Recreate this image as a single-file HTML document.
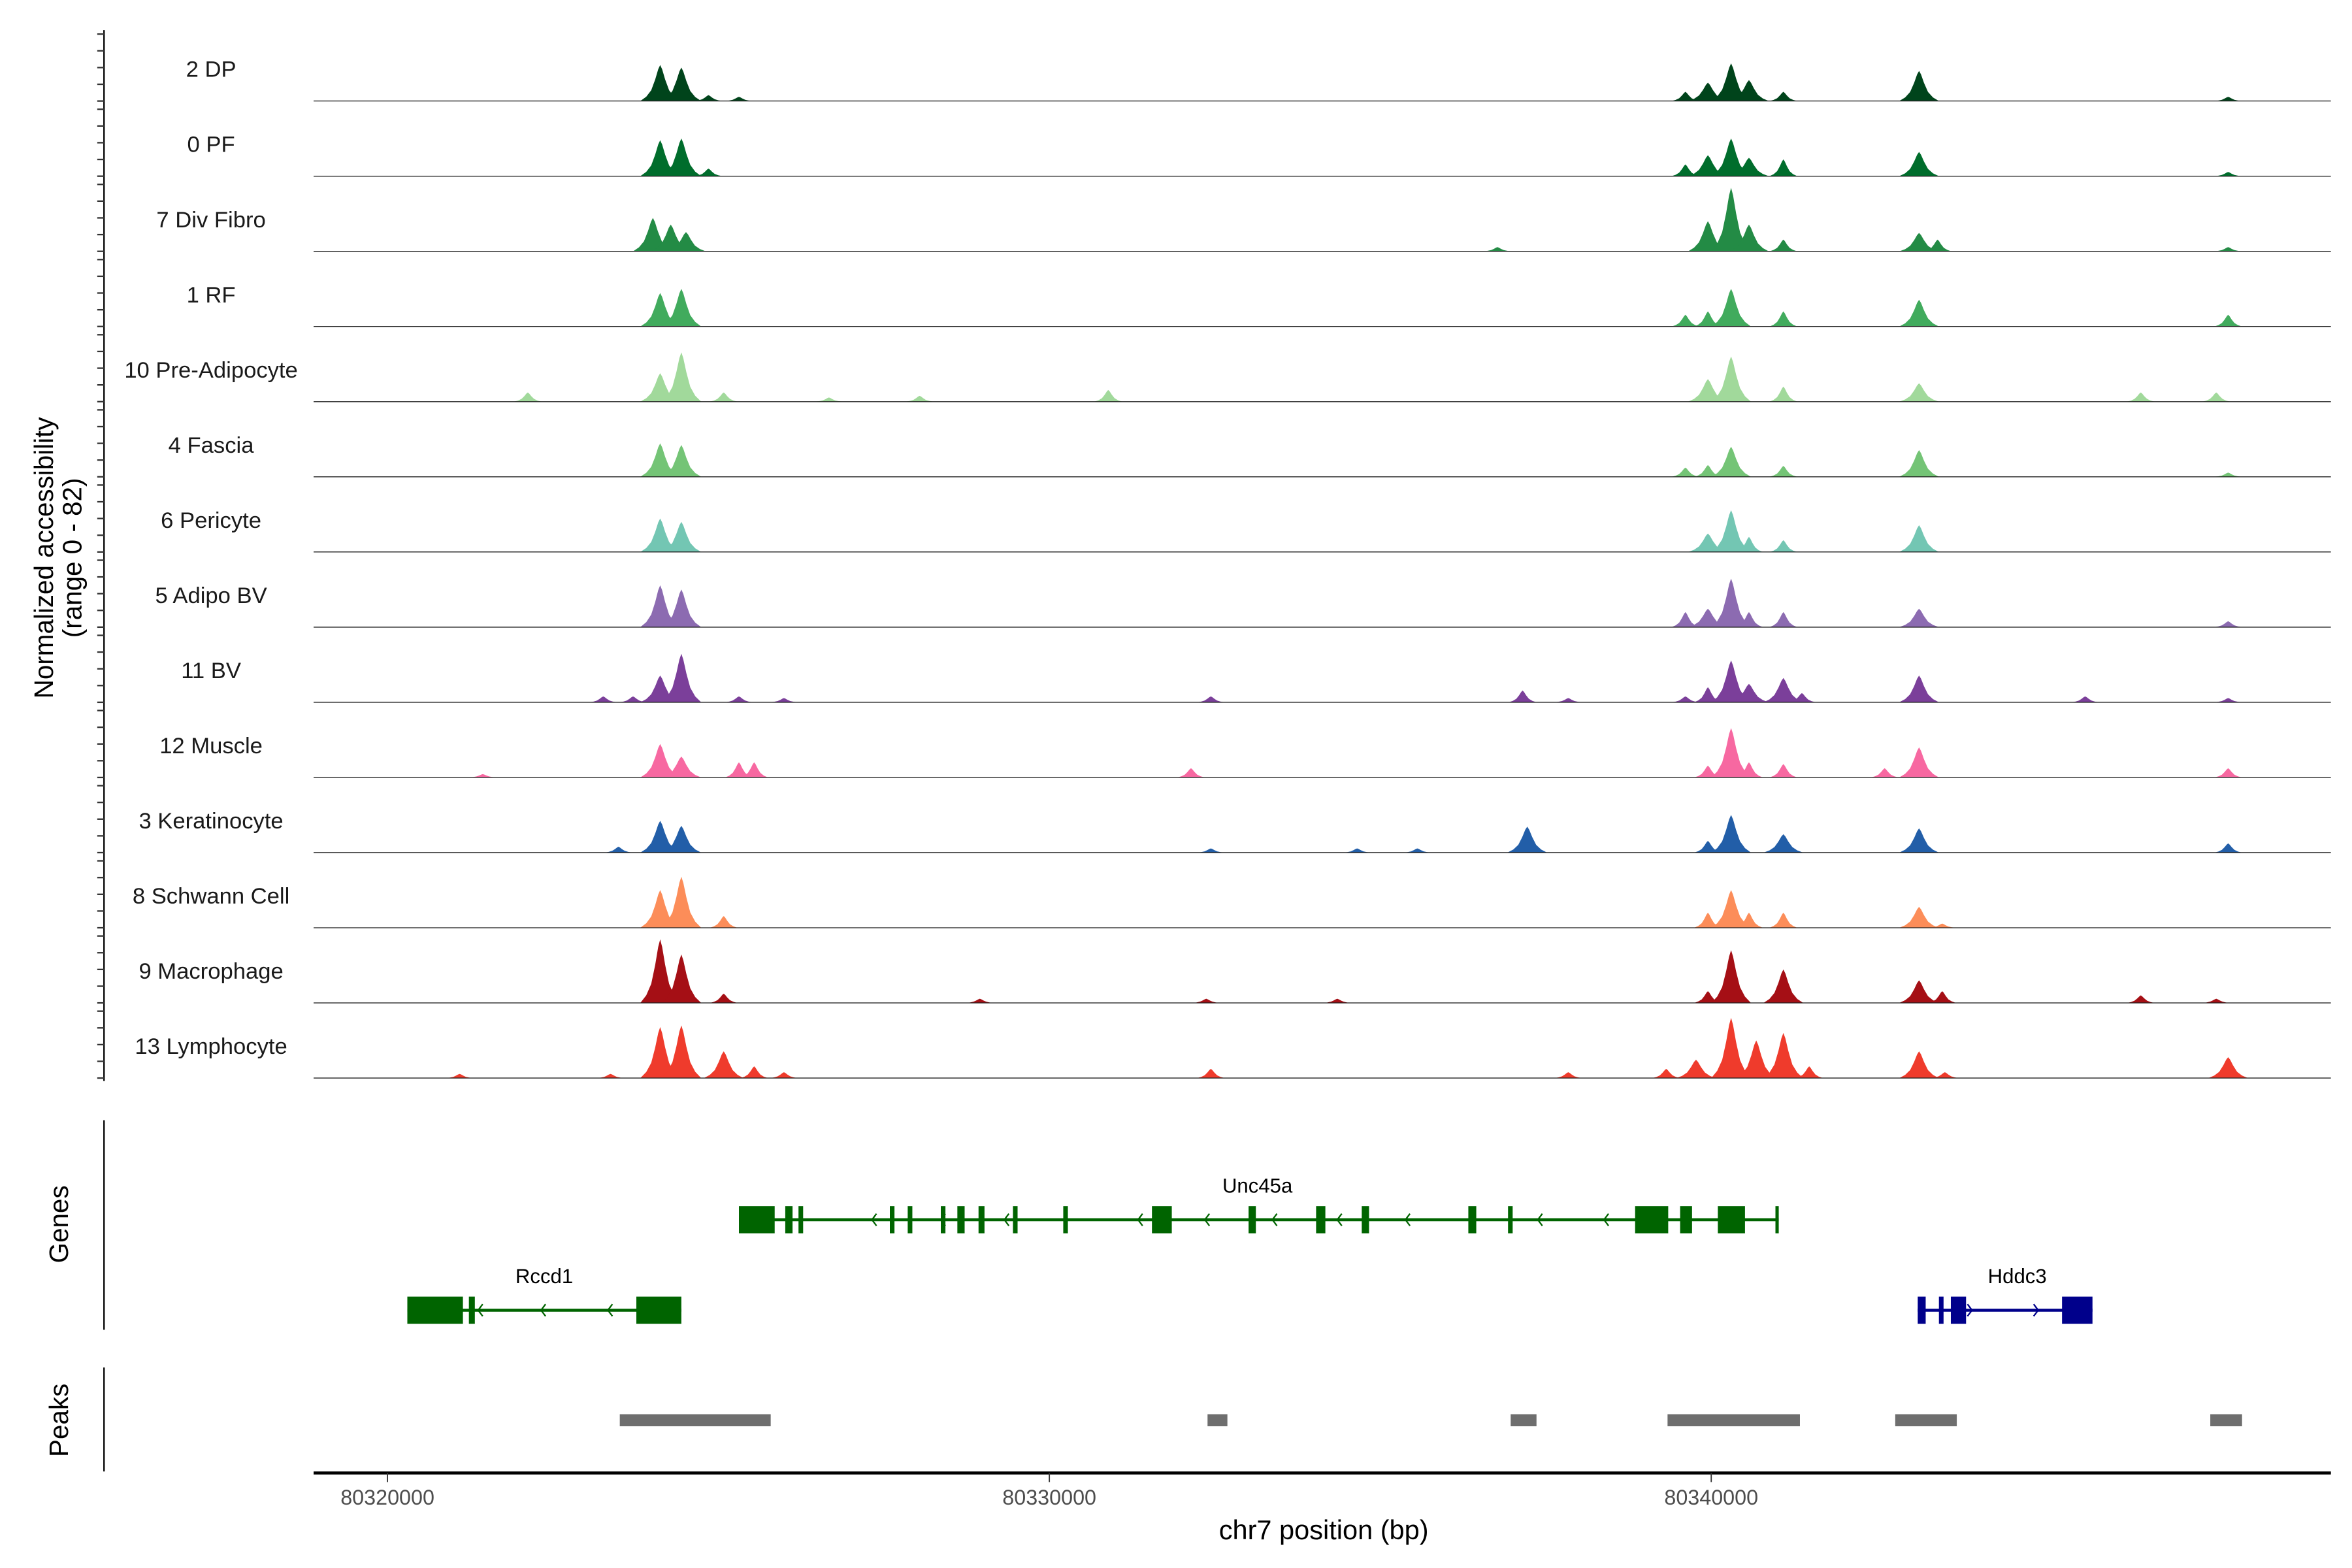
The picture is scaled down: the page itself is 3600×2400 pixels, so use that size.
<!DOCTYPE html>
<html><head><meta charset="utf-8"><style>
html,body{margin:0;padding:0;background:#fff}
svg{display:block}
text{font-family:"Liberation Sans",Arial,sans-serif}
</style></head><body>
<svg id="chart" xmlns="http://www.w3.org/2000/svg" width="3600" height="2400" viewBox="0 0 1560 1040" preserveAspectRatio="none"></svg>
<script>
// ---- data ----
const START = 80320000; // positions below are kb offsets from START
const trackNames = ["2 DP","0 PF","7 Div Fibro","1 RF","10 Pre-Adipocyte","4 Fascia","6 Pericyte","5 Adipo BV","11 BV","12 Muscle","3 Keratinocyte","8 Schwann Cell","9 Macrophage","13 Lymphocyte"];
const trackColors = ["#00441b","#006d2c","#238b45","#41ab5d","#a1d99b","#74c476","#73c6b3","#8c6bb1","#7b3f9a","#f768a1","#225ea8","#fc8d59","#a50f15","#ef3b2c"];
const pos0 = [4.12,4.44,4.85,5.31,19.61,19.95,20.30,20.57,21.09,23.14,27.81];
const val0 = [43,40,7,5,11,22,45,25,11,36,5];
const pos1 = [4.12,4.44,4.85,19.61,19.95,20.30,20.57,21.09,23.14,27.81];
const val1 = [43,45,9,14,25,45,22,20,29,5];
const pos2 = [4.01,4.28,4.51,16.77,19.95,20.30,20.57,21.09,23.14,23.42,27.81];
const val2 = [40,32,23,5,36,76,32,14,22,14,5];
const pos3 = [4.12,4.44,19.61,19.95,20.30,21.09,23.14,27.81];
const val3 = [40,45,14,18,45,18,32,14];
const pos4 = [2.12,4.12,4.44,5.08,6.67,8.04,10.89,19.95,20.30,21.09,23.14,26.49,27.63];
const val4 = [11,34,59,11,5,7,14,27,54,18,22,11,11];
const pos5 = [4.12,4.44,19.61,19.95,20.30,21.09,23.14,27.81];
const val5 = [40,38,11,14,36,13,32,5];
const pos6 = [4.12,4.44,19.95,20.30,20.57,21.09,23.14];
const val6 = [40,36,22,50,18,14,32];
const pos7 = [4.12,4.44,19.61,19.95,20.30,20.57,21.09,23.14,27.81];
const val7 = [50,45,18,22,58,18,18,22,7];
const pos8 = [3.26,3.71,4.12,4.44,5.31,5.99,12.44,17.15,17.84,19.61,19.95,20.30,20.57,21.09,21.37,23.14,25.65,27.81];
const val8 = [7,7,32,58,7,5,7,14,5,7,18,50,22,29,11,32,7,5];
const pos9 = [1.44,4.12,4.44,5.31,5.54,12.14,19.95,20.30,20.57,21.09,22.62,23.14,27.81];
const val9 = [4,40,25,18,18,11,14,59,18,16,11,36,11];
const pos10 = [3.49,4.12,4.44,12.44,14.65,15.56,17.22,19.95,20.30,21.09,23.14,27.81];
const val10 = [7,38,32,5,5,5,31,14,45,22,29,11];
const pos11 = [4.12,4.44,5.08,19.95,20.30,20.57,21.09,23.14,23.49];
const val11 = [45,61,14,18,45,18,18,25,5];
const pos12 = [4.12,4.44,5.08,8.95,12.37,14.35,19.95,20.30,21.09,23.14,23.49,26.49,27.63];
const val12 = [76,58,11,5,5,5,14,63,40,27,14,9,5];
const pos13 = [1.09,3.37,4.12,4.44,5.08,5.54,5.99,12.44,17.84,19.32,19.77,20.30,20.68,21.09,21.48,23.14,23.53,27.81];
const val13 = [5,5,61,63,32,14,7,11,7,11,22,72,45,54,14,32,7,25];
const trackPos = [pos0,pos1,pos2,pos3,pos4,pos5,pos6,pos7,pos8,pos9,pos10,pos11,pos12,pos13];
const trackVals = [val0,val1,val2,val3,val4,val5,val6,val7,val8,val9,val10,val11,val12,val13];
const xTicks = [80320000,80330000,80340000];
const xTickLabels = ["80320000","80330000","80340000"];
const yTickVals = [0,20,40,60,80];
// genes: exons as [startKb,endKb] offsets
const uncExons = [[5.31,5.85],[6.01,6.12],[6.21,6.28],[7.59,7.66],[7.86,7.93],[8.36,8.43],[8.61,8.72],[8.93,9.02],[9.45,9.52],[10.21,10.28],[11.55,11.85],[13.01,13.12],[14.03,14.17],[14.72,14.83],[16.33,16.45],[16.93,17.00],[18.85,19.35],[19.53,19.71],[20.10,20.51],[20.97,21.02]];
const uncArrows = [7.32,8.36,9.32,11.34,12.35,13.37,14.35,15.38,17.38,18.38];
const rccExons = [[0.30,1.14],[1.23,1.32],[3.76,4.44]];
const rccArrows = [1.37,2.32,3.33];
const hddExons = [[23.12,23.24],[23.44,23.51],[23.62,23.85],[25.30,25.76]];
const hddArrows = [23.94,24.94];
const peakRanges = [[3.51,5.79],[12.39,12.69],[16.97,17.36],[19.34,21.34],[22.78,23.71],[27.54,28.02]];

// ---- scales ----
const NS = "http://www.w3.org/2000/svg";
const svg = document.getElementById("chart");
const X0 = 208, X1 = 1546;
const xs = kb => 257 + kb * 43.9;
const xsBp = bp => xs((bp - START) / 1000);
const TRACK_H = 45.5, TRACK_SP = 49.85, BASE0 = 67;
const ys = (i, v) => BASE0 + i * TRACK_SP - v / 82 * TRACK_H;
function el(tag, attrs, parent) {
  const e = document.createElementNS(NS, tag);
  for (const k in attrs) e.setAttribute(k, attrs[k]);
  (parent || svg).appendChild(e);
  return e;
}
function txt(s, attrs, parent) { const t = el("text", attrs, parent); t.textContent = s; return t; }

// y axis
const yAxis = el("line", {x1:69,y1:20,x2:69,y2:717,stroke:"#000","stroke-width":1});


for (let i = 0; i < trackNames.length; i++) {
  for (const v of yTickVals) {
    const t = el("line", {x1:64.5,x2:69,y1:ys(i,v),y2:ys(i,v),stroke:"#333","stroke-width":1});
    
    
  }
}
const yt = txt("", {transform:"translate(35,370) rotate(-90)","text-anchor":"middle","font-size":17.5,fill:"#000"});


const ts1 = el("tspan", {x:0,dy:0}, yt); ts1.textContent = "Normalized accessibility";
const ts2 = el("tspan", {x:0,dy:19}, yt); ts2.textContent = "(range 0 - 82)";

// peak shape profile (relative offset, relative height)
const SHAPE_OFF = [-1,-0.7,-0.45,-0.25,-0.1,0,0.1,0.25,0.45,0.7,1];
const SHAPE_H = [0,0.12,0.3,0.6,0.88,1,0.88,0.6,0.3,0.12,0];
const HALF_W = 0.3;

// tracks
for (let i = 0; i < trackNames.length; i++) {
  const g = el("g", {});
  
  
  const lab = txt(trackNames[i], {x:140,y:BASE0 + i*TRACK_SP - 16,"text-anchor":"middle","font-size":15,fill:"#1a1a1a"}, g);
  
  
  const P = trackPos[i], V = trackVals[i];
  const base = ys(i, 0);
  for (let j = 0; j < P.length; j++) {
    const w = V[j] > 20 ? HALF_W : HALF_W * 0.7;
    let d = "";
    for (let k = 0; k < SHAPE_OFF.length; k++) {
      const x = xs(P[j] + SHAPE_OFF[k] * w), y = ys(i, V[j] * SHAPE_H[k]);
      d += (k ? " L" : "M") + x.toFixed(2) + "," + y.toFixed(2);
    }
    const p = el("path", {d: d + " Z", fill:trackColors[i]}, g);
    
    
  }
  const bl = el("line", {x1:X0,x2:X1,y1:base,y2:base,stroke:"#222","stroke-width":0.6}, g);
  
  
}

// genes panel
const gl = el("line", {x1:69,y1:743,x2:69,y2:882,stroke:"#000","stroke-width":1});


const gt = txt("Genes", {transform:"translate(45,812) rotate(-90)","text-anchor":"middle","font-size":17.5});


function gene(name, exons, arrows, color, y, dir, labX) {
  const g = el("g", {});
  
  
  const s = exons[0][0], e = exons[exons.length-1][1];
  el("line", {x1:xs(s),x2:xs(e),y1:y,y2:y,stroke:color,"stroke-width":2}, g);
  for (const ex of exons) {
    const r = el("rect", {x:xs(ex[0]),y:y-9,width:Math.max(xs(ex[1])-xs(ex[0]),1.2),height:18,fill:color}, g);
    
    
  }
  for (const a of arrows) {
    const x = xs(a);
    const d = dir < 0 ? `M${x+3},${y-4} L${x},${y} L${x+3},${y+4}` : `M${x-3},${y-4} L${x},${y} L${x-3},${y+4}`;
    el("path", {d, stroke:color, fill:"none","stroke-width":1}, g);
  }
  const l = txt(name, {x:labX,y:y-18,"text-anchor":"middle","font-size":13.5,fill:"#000"}, g);
  
  
}
gene("Unc45a", uncExons, uncArrows, "#006400", 809, -1, 834);
gene("Rccd1", rccExons, rccArrows, "#006400", 869, -1, 361);
gene("Hddc3", hddExons, hddArrows, "#00008b", 869, 1, 1338);

// peaks panel
const pl = el("line", {x1:69,y1:907,x2:69,y2:976,stroke:"#000","stroke-width":1});


const pt = txt("Peaks", {transform:"translate(45,942) rotate(-90)","text-anchor":"middle","font-size":17.5});


for (const r of peakRanges) {
  const rr = el("rect", {x:xs(r[0]),y:938,width:xs(r[1])-xs(r[0]),height:8,fill:"#6e6e6e"});
  
  
}

// x axis
const xa = el("line", {x1:X0,x2:X1,y1:977,y2:977,stroke:"#000","stroke-width":2});


for (let k = 0; k < xTicks.length; k++) {
  const x = xsBp(xTicks[k]);
  const t = el("line", {x1:x,x2:x,y1:977,y2:983,stroke:"#333","stroke-width":0.8});
  
  
  const l = txt(xTickLabels[k], {x:x,y:998,"text-anchor":"middle","font-size":14,fill:"#4d4d4d"});
  
  
}
const xt = txt("chr7 position (bp)", {x:878,y:1021,"text-anchor":"middle","font-size":18,fill:"#000"});


</script>
</body></html>
